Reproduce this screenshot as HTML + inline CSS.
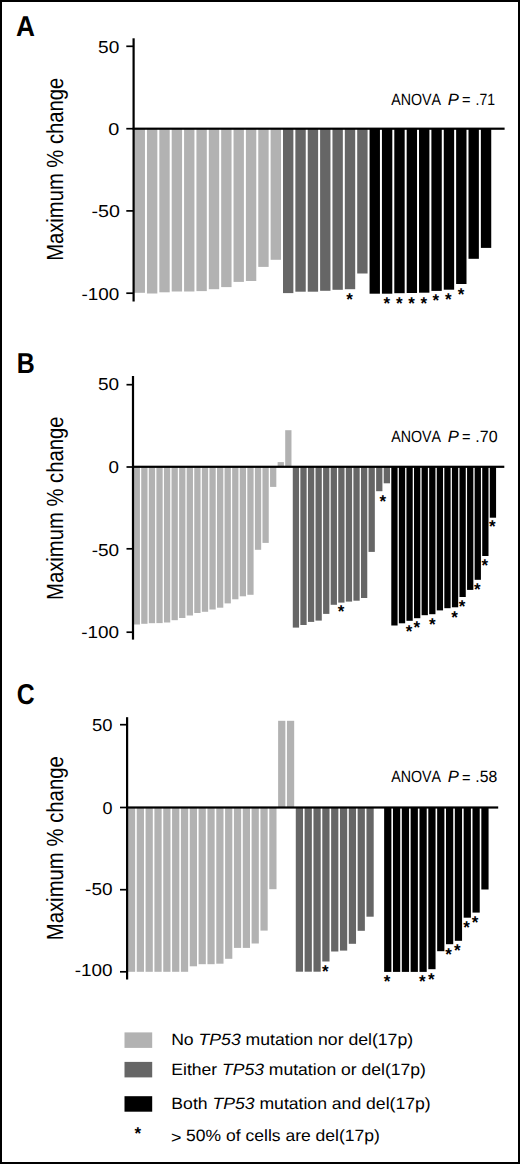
<!DOCTYPE html><html><head><meta charset="utf-8"><style>html,body{margin:0;padding:0;background:#fff;}svg{display:block;}text{font-family:"Liberation Sans",sans-serif;font-kerning:none;text-rendering:geometricPrecision;}</style></head><body>
<svg width="520" height="1164" viewBox="0 0 520 1164">
<rect x="0" y="0" width="520" height="1164" fill="#fff"/>
<rect x="1" y="1" width="518" height="1162" fill="none" stroke="#000" stroke-width="2"/>
<rect x="133.6" y="128.7" width="11.37" height="164.1" fill="#b2b2b2"/>
<rect x="146.97" y="128.7" width="10.37" height="164.8" fill="#b2b2b2"/>
<rect x="159.33" y="128.7" width="10.37" height="163.6" fill="#b2b2b2"/>
<rect x="171.7" y="128.7" width="10.37" height="162.8" fill="#b2b2b2"/>
<rect x="184.07" y="128.7" width="10.37" height="162.8" fill="#b2b2b2"/>
<rect x="196.43" y="128.7" width="10.37" height="162.4" fill="#b2b2b2"/>
<rect x="208.8" y="128.7" width="10.37" height="160.5" fill="#b2b2b2"/>
<rect x="221.17" y="128.7" width="10.37" height="158.4" fill="#b2b2b2"/>
<rect x="233.53" y="128.7" width="10.37" height="153.2" fill="#b2b2b2"/>
<rect x="245.9" y="128.7" width="10.37" height="152.3" fill="#b2b2b2"/>
<rect x="258.27" y="128.7" width="10.37" height="138.2" fill="#b2b2b2"/>
<rect x="270.63" y="128.7" width="10.37" height="131.1" fill="#b2b2b2"/>
<rect x="283" y="128.7" width="10.37" height="164.4" fill="#666666"/>
<rect x="295.37" y="128.7" width="10.37" height="163" fill="#666666"/>
<rect x="307.73" y="128.7" width="10.37" height="163" fill="#666666"/>
<rect x="320.1" y="128.7" width="10.37" height="162.1" fill="#666666"/>
<rect x="332.47" y="128.7" width="10.37" height="161.1" fill="#666666"/>
<rect x="344.83" y="128.7" width="10.37" height="160.5" fill="#666666"/>
<rect x="357.2" y="128.7" width="10.37" height="144.8" fill="#666666"/>
<rect x="369.57" y="128.7" width="10.37" height="165" fill="#000000"/>
<rect x="381.93" y="128.7" width="10.37" height="165" fill="#000000"/>
<rect x="394.3" y="128.7" width="10.37" height="164.5" fill="#000000"/>
<rect x="406.67" y="128.7" width="10.37" height="164.3" fill="#000000"/>
<rect x="419.03" y="128.7" width="10.37" height="164" fill="#000000"/>
<rect x="431.4" y="128.7" width="10.37" height="162.2" fill="#000000"/>
<rect x="443.77" y="128.7" width="10.37" height="161" fill="#000000"/>
<rect x="456.13" y="128.7" width="10.37" height="155.3" fill="#000000"/>
<rect x="468.5" y="128.7" width="10.37" height="130.1" fill="#000000"/>
<rect x="480.87" y="128.7" width="10.37" height="119.2" fill="#000000"/>
<rect x="132.6" y="127.6" width="372" height="2.2" fill="#000"/>
<rect x="132.5" y="38.3" width="2.2" height="263.2" fill="#000"/>
<rect x="126.3" y="45.45" width="7.3" height="1.7" fill="#000"/>
<text transform="translate(98.04,53.20) scale(1.1021,1)" font-size="17.30" fill="#000">50</text>
<rect x="126.3" y="127.85" width="7.3" height="1.7" fill="#000"/>
<text transform="translate(108.32,135.30) scale(1.1487,1)" font-size="17.30" fill="#000">0</text>
<rect x="126.3" y="210.05" width="7.3" height="1.7" fill="#000"/>
<text transform="translate(91.43,217.30) scale(1.1375,1)" font-size="17.30" fill="#000">-50</text>
<rect x="126.3" y="292.35" width="7.3" height="1.7" fill="#000"/>
<text transform="translate(81.46,299.60) scale(1.0910,1)" font-size="17.30" fill="#000">-100</text>
<text transform="translate(16.05,35.80) scale(0.9109,1)" font-size="28.80" font-weight="bold" fill="#000"><tspan font-weight="bold">A</tspan></text>
<text transform="translate(391.17,104.60) scale(0.8754,1)" font-size="16.30" fill="#000">ANOVA</text>
<text transform="translate(447.69,104.60) scale(1.0227,1)" font-size="16.30" fill="#000"><tspan font-style="italic">P</tspan></text>
<text transform="translate(461.89,105.20) scale(0.8966,1)" font-size="16.30" fill="#000">=</text>
<text transform="translate(475.52,104.60) scale(0.8589,1)" font-size="16.30" fill="#000">.71</text>
<text transform="translate(62.80,260.86) rotate(-90) scale(0.8677,1)" font-size="23.30">Maximum % change</text>
<text x="346.18" y="304.7" font-size="17" font-weight="bold">*</text>
<text x="383.48" y="308.5" font-size="17" font-weight="bold">*</text>
<text x="395.88" y="308.5" font-size="17" font-weight="bold">*</text>
<text x="408.28" y="308.5" font-size="17" font-weight="bold">*</text>
<text x="420.38" y="308.5" font-size="17" font-weight="bold">*</text>
<text x="432.58" y="306" font-size="17" font-weight="bold">*</text>
<text x="445.08" y="304.8" font-size="17" font-weight="bold">*</text>
<text x="457.78" y="300.3" font-size="17" font-weight="bold">*</text>
<rect x="133" y="466.8" width="6.93" height="157.7" fill="#b2b2b2"/>
<rect x="141.23" y="466.8" width="6.28" height="157" fill="#b2b2b2"/>
<rect x="148.81" y="466.8" width="6.28" height="156.4" fill="#b2b2b2"/>
<rect x="156.38" y="466.8" width="6.28" height="156.3" fill="#b2b2b2"/>
<rect x="163.96" y="466.8" width="6.28" height="155.7" fill="#b2b2b2"/>
<rect x="171.54" y="466.8" width="6.28" height="153.4" fill="#b2b2b2"/>
<rect x="179.12" y="466.8" width="6.28" height="151.2" fill="#b2b2b2"/>
<rect x="186.69" y="466.8" width="6.28" height="148.7" fill="#b2b2b2"/>
<rect x="194.27" y="466.8" width="6.28" height="146.2" fill="#b2b2b2"/>
<rect x="201.85" y="466.8" width="6.28" height="145" fill="#b2b2b2"/>
<rect x="209.43" y="466.8" width="6.28" height="142.7" fill="#b2b2b2"/>
<rect x="217" y="466.8" width="6.28" height="140.9" fill="#b2b2b2"/>
<rect x="224.58" y="466.8" width="6.28" height="136.6" fill="#b2b2b2"/>
<rect x="232.16" y="466.8" width="6.28" height="132.5" fill="#b2b2b2"/>
<rect x="239.74" y="466.8" width="6.28" height="129.5" fill="#b2b2b2"/>
<rect x="247.31" y="466.8" width="6.28" height="128" fill="#b2b2b2"/>
<rect x="254.89" y="466.8" width="6.28" height="83" fill="#b2b2b2"/>
<rect x="262.47" y="466.8" width="6.28" height="76.1" fill="#b2b2b2"/>
<rect x="270.05" y="466.8" width="6.28" height="20.1" fill="#b2b2b2"/>
<rect x="277.62" y="462.1" width="6.28" height="4.7" fill="#b2b2b2"/>
<rect x="285.2" y="430.2" width="6.28" height="36.6" fill="#b2b2b2"/>
<rect x="292.78" y="466.8" width="6.28" height="160.8" fill="#666666"/>
<rect x="300.36" y="466.8" width="6.28" height="158.2" fill="#666666"/>
<rect x="307.93" y="466.8" width="6.28" height="155.1" fill="#666666"/>
<rect x="315.51" y="466.8" width="6.28" height="153.8" fill="#666666"/>
<rect x="323.09" y="466.8" width="6.28" height="147.1" fill="#666666"/>
<rect x="330.67" y="466.8" width="6.28" height="138" fill="#666666"/>
<rect x="338.24" y="466.8" width="6.28" height="135.8" fill="#666666"/>
<rect x="345.82" y="466.8" width="6.28" height="134.8" fill="#666666"/>
<rect x="353.4" y="466.8" width="6.28" height="133.9" fill="#666666"/>
<rect x="360.98" y="466.8" width="6.28" height="131.2" fill="#666666"/>
<rect x="368.55" y="466.8" width="6.28" height="85.1" fill="#666666"/>
<rect x="376.13" y="466.8" width="6.28" height="24.4" fill="#666666"/>
<rect x="383.71" y="466.8" width="6.28" height="16.5" fill="#666666"/>
<rect x="391.29" y="466.8" width="6.28" height="158.7" fill="#000000"/>
<rect x="398.86" y="466.8" width="6.28" height="156.5" fill="#000000"/>
<rect x="406.44" y="466.8" width="6.28" height="154" fill="#000000"/>
<rect x="414.02" y="466.8" width="6.28" height="151.4" fill="#000000"/>
<rect x="421.6" y="466.8" width="6.28" height="148.4" fill="#000000"/>
<rect x="429.17" y="466.8" width="6.28" height="147.4" fill="#000000"/>
<rect x="436.75" y="466.8" width="6.28" height="143.6" fill="#000000"/>
<rect x="444.33" y="466.8" width="6.28" height="141.4" fill="#000000"/>
<rect x="451.91" y="466.8" width="6.28" height="140.5" fill="#000000"/>
<rect x="459.48" y="466.8" width="6.28" height="130.2" fill="#000000"/>
<rect x="467.06" y="466.8" width="6.28" height="123.1" fill="#000000"/>
<rect x="474.64" y="466.8" width="6.28" height="113" fill="#000000"/>
<rect x="482.22" y="466.8" width="6.28" height="89.2" fill="#000000"/>
<rect x="489.79" y="466.8" width="6.28" height="50.9" fill="#000000"/>
<rect x="132" y="465.7" width="372.3" height="2.2" fill="#000"/>
<rect x="131.9" y="376" width="2.2" height="263.6" fill="#000"/>
<rect x="126.5" y="383.85" width="6.5" height="1.7" fill="#000"/>
<text transform="translate(98.04,390.40) scale(1.0965,1)" font-size="17.30" fill="#000">50</text>
<rect x="126.5" y="466.15" width="6.5" height="1.7" fill="#000"/>
<text transform="translate(108.46,473.00) scale(1.0883,1)" font-size="17.30" fill="#000">0</text>
<rect x="126.5" y="547.95" width="6.5" height="1.7" fill="#000"/>
<text transform="translate(91.65,555.50) scale(1.0993,1)" font-size="17.30" fill="#000">-50</text>
<rect x="126.5" y="631.35" width="6.5" height="1.7" fill="#000"/>
<text transform="translate(81.26,638.00) scale(1.0940,1)" font-size="17.30" fill="#000">-100</text>
<text transform="translate(16.73,373.00) scale(0.8654,1)" font-size="28.80" font-weight="bold" fill="#000"><tspan font-weight="bold">B</tspan></text>
<text transform="translate(391.17,441.60) scale(0.8754,1)" font-size="16.30" fill="#000">ANOVA</text>
<text transform="translate(447.69,441.60) scale(1.0227,1)" font-size="16.30" fill="#000"><tspan font-style="italic">P</tspan></text>
<text transform="translate(461.89,442.20) scale(0.8966,1)" font-size="16.30" fill="#000">=</text>
<text transform="translate(475.34,441.60) scale(0.9837,1)" font-size="16.30" fill="#000">.70</text>
<text transform="translate(62.80,599.96) rotate(-90) scale(0.8692,1)" font-size="23.30">Maximum % change</text>
<text x="337.78" y="617.4" font-size="17" font-weight="bold">*</text>
<text x="379.38" y="507.4" font-size="17" font-weight="bold">*</text>
<text x="405.68" y="636.6" font-size="17" font-weight="bold">*</text>
<text x="413.48" y="633.4" font-size="17" font-weight="bold">*</text>
<text x="428.88" y="629.5" font-size="17" font-weight="bold">*</text>
<text x="451.18" y="623" font-size="17" font-weight="bold">*</text>
<text x="458.68" y="612.3" font-size="17" font-weight="bold">*</text>
<text x="474.08" y="595" font-size="17" font-weight="bold">*</text>
<text x="481.58" y="571.4" font-size="17" font-weight="bold">*</text>
<text x="489.08" y="532" font-size="17" font-weight="bold">*</text>
<rect x="127.1" y="807.5" width="8.04" height="164.3" fill="#b2b2b2"/>
<rect x="136.74" y="807.5" width="7.24" height="164.3" fill="#b2b2b2"/>
<rect x="145.57" y="807.5" width="7.24" height="164.3" fill="#b2b2b2"/>
<rect x="154.41" y="807.5" width="7.24" height="164.3" fill="#b2b2b2"/>
<rect x="163.24" y="807.5" width="7.24" height="164.3" fill="#b2b2b2"/>
<rect x="172.08" y="807.5" width="7.24" height="164.3" fill="#b2b2b2"/>
<rect x="180.91" y="807.5" width="7.24" height="164.3" fill="#b2b2b2"/>
<rect x="189.75" y="807.5" width="7.24" height="158.8" fill="#b2b2b2"/>
<rect x="198.59" y="807.5" width="7.24" height="156.7" fill="#b2b2b2"/>
<rect x="207.42" y="807.5" width="7.24" height="156.7" fill="#b2b2b2"/>
<rect x="216.26" y="807.5" width="7.24" height="156.2" fill="#b2b2b2"/>
<rect x="225.09" y="807.5" width="7.24" height="151.3" fill="#b2b2b2"/>
<rect x="233.93" y="807.5" width="7.24" height="140.4" fill="#b2b2b2"/>
<rect x="242.76" y="807.5" width="7.24" height="140.4" fill="#b2b2b2"/>
<rect x="251.6" y="807.5" width="7.24" height="136" fill="#b2b2b2"/>
<rect x="260.44" y="807.5" width="7.24" height="123.1" fill="#b2b2b2"/>
<rect x="269.27" y="807.5" width="7.24" height="81.7" fill="#b2b2b2"/>
<rect x="278.11" y="720.8" width="7.24" height="86.7" fill="#b2b2b2"/>
<rect x="286.94" y="720.8" width="7.24" height="86.7" fill="#b2b2b2"/>
<rect x="295.78" y="807.5" width="7.24" height="164.2" fill="#666666"/>
<rect x="304.61" y="807.5" width="7.24" height="164.2" fill="#666666"/>
<rect x="313.45" y="807.5" width="7.24" height="164.2" fill="#666666"/>
<rect x="322.29" y="807.5" width="7.24" height="154" fill="#666666"/>
<rect x="331.12" y="807.5" width="7.24" height="144" fill="#666666"/>
<rect x="339.96" y="807.5" width="7.24" height="143.1" fill="#666666"/>
<rect x="348.79" y="807.5" width="7.24" height="136.3" fill="#666666"/>
<rect x="357.63" y="807.5" width="7.24" height="123.3" fill="#666666"/>
<rect x="366.46" y="807.5" width="7.24" height="109.2" fill="#666666"/>
<rect x="384.14" y="807.5" width="7.24" height="164.4" fill="#000000"/>
<rect x="392.97" y="807.5" width="7.24" height="164.4" fill="#000000"/>
<rect x="401.81" y="807.5" width="7.24" height="164.4" fill="#000000"/>
<rect x="410.64" y="807.5" width="7.24" height="164.4" fill="#000000"/>
<rect x="419.48" y="807.5" width="7.24" height="164.4" fill="#000000"/>
<rect x="428.31" y="807.5" width="7.24" height="161.7" fill="#000000"/>
<rect x="437.15" y="807.5" width="7.24" height="143.7" fill="#000000"/>
<rect x="445.99" y="807.5" width="7.24" height="136.7" fill="#000000"/>
<rect x="454.82" y="807.5" width="7.24" height="133.3" fill="#000000"/>
<rect x="463.66" y="807.5" width="7.24" height="110.2" fill="#000000"/>
<rect x="472.49" y="807.5" width="7.24" height="105.1" fill="#000000"/>
<rect x="481.33" y="807.5" width="7.24" height="82" fill="#000000"/>
<rect x="126.1" y="806.4" width="372.1" height="2.2" fill="#000"/>
<rect x="126" y="717.2" width="2.2" height="262.3" fill="#000"/>
<rect x="120" y="723.85" width="7.1" height="1.7" fill="#000"/>
<text transform="translate(92.06,731.40) scale(1.0630,1)" font-size="17.30" fill="#000">50</text>
<rect x="120" y="806.65" width="7.1" height="1.7" fill="#000"/>
<text transform="translate(102.50,814.00) scale(1.0399,1)" font-size="17.30" fill="#000">0</text>
<rect x="120" y="888.85" width="7.1" height="1.7" fill="#000"/>
<text transform="translate(85.05,895.40) scale(1.0993,1)" font-size="17.30" fill="#000">-50</text>
<rect x="120" y="970.95" width="7.1" height="1.7" fill="#000"/>
<text transform="translate(74.66,976.20) scale(1.0940,1)" font-size="17.30" fill="#000">-100</text>
<text transform="translate(16.68,703.90) scale(0.8603,1)" font-size="28.80" font-weight="bold" fill="#000"><tspan font-weight="bold">C</tspan></text>
<text transform="translate(391.17,782.20) scale(0.8754,1)" font-size="16.30" fill="#000">ANOVA</text>
<text transform="translate(447.69,782.20) scale(1.0227,1)" font-size="16.30" fill="#000"><tspan font-style="italic">P</tspan></text>
<text transform="translate(461.89,782.80) scale(0.8966,1)" font-size="16.30" fill="#000">=</text>
<text transform="translate(475.36,782.20) scale(0.9676,1)" font-size="16.30" fill="#000">.58</text>
<text transform="translate(62.80,940.27) rotate(-90) scale(0.8721,1)" font-size="23.30">Maximum % change</text>
<text x="322.08" y="977" font-size="17" font-weight="bold">*</text>
<text x="383.68" y="987.4" font-size="17" font-weight="bold">*</text>
<text x="418.98" y="987.4" font-size="17" font-weight="bold">*</text>
<text x="428.08" y="984.6" font-size="17" font-weight="bold">*</text>
<text x="445.28" y="959.7" font-size="17" font-weight="bold">*</text>
<text x="453.98" y="955.5" font-size="17" font-weight="bold">*</text>
<text x="463.18" y="933.2" font-size="17" font-weight="bold">*</text>
<text x="471.78" y="928" font-size="17" font-weight="bold">*</text>
<rect x="124.5" y="1032.4" width="27.7" height="15.5" fill="#b2b2b2"/>
<text transform="translate(171.15,1044.90) scale(1.0749,1)" font-size="16.40" fill="#000">No <tspan font-style="italic">TP53</tspan> mutation nor del(17p)</text>
<rect x="124.5" y="1061.9" width="27.7" height="15.5" fill="#666666"/>
<text transform="translate(171.36,1074.50) scale(1.0702,1)" font-size="16.40" fill="#000">Either <tspan font-style="italic">TP53</tspan> mutation or del(17p)</text>
<rect x="124.5" y="1096.2" width="27.7" height="15.5" fill="#000000"/>
<text transform="translate(171.36,1108.50) scale(1.0738,1)" font-size="16.40" fill="#000">Both <tspan font-style="italic">TP53</tspan> mutation and del(17p)</text>
<text x="134.38" y="1139.4" font-size="17" font-weight="bold">*</text>
<text transform="translate(171.12,1142.60) scale(1.0919,1)" font-size="16.40" fill="#000">&gt;</text>
<text transform="translate(186.10,1141.40) scale(1.0688,1)" font-size="16.40" fill="#000">50% of cells are del(17p)</text>
</svg></body></html>
